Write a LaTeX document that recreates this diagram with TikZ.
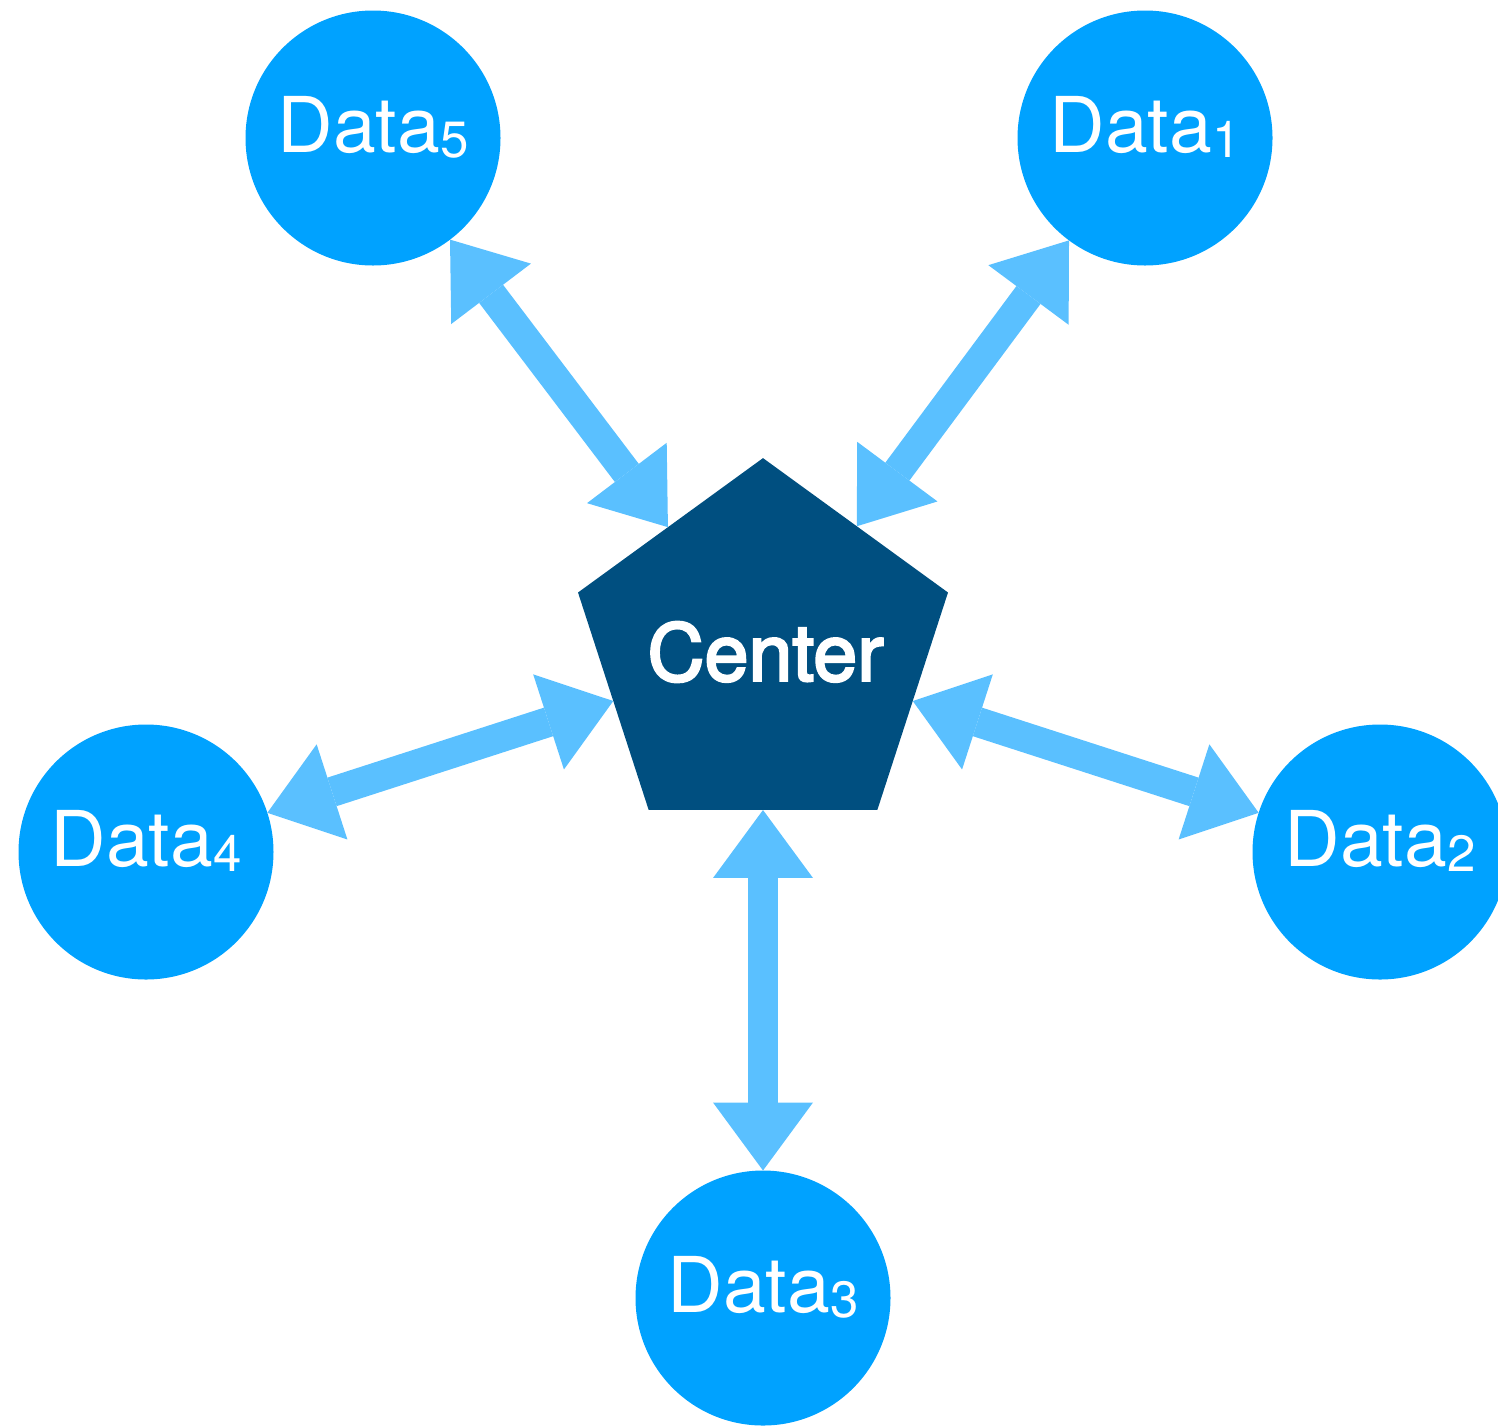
\documentclass[tikz,border=0pt]{standalone}
\usepackage{fontspec}
\setmainfont{TeX Gyre Heros}
\newfontfamily\medfont[FakeBold=3]{TeX Gyre Heros}
\usetikzlibrary{shapes.geometric,arrows.meta}
\definecolor{circc}{RGB}{0,162,255}
\definecolor{pentc}{RGB}{0,79,128}
\definecolor{arrc}{RGB}{90,192,255}
\tikzset{
  datacirc/.style={circle,fill=circc,draw=none,minimum size=255pt,inner sep=0pt,outer sep=0pt},
  pent/.style={regular polygon,regular polygon sides=5,fill=pentc,draw=none,minimum size=389pt,inner sep=0pt,outer sep=0pt},
  ctext/.style={inner sep=0pt,text=white,font=\fontsize{79}{80}\medfont},
  dlabel/.style={anchor=base,inner sep=0pt,text=white,font=\fontsize{77}{80}\selectfont,yshift=-14pt},
  link/.style={draw=arrc,line width=30pt,
    {Triangle[width=100pt,length=68pt,line width=0pt,fill=arrc]}-{Triangle[width=100pt,length=68pt,line width=0pt,fill=arrc]}}
}
\newcommand{\dsub}[1]{\raisebox{-5pt}{\fontsize{51}{54}\selectfont #1}}
\begin{document}
\begin{tikzpicture}[x=1pt,y=-1pt]
\useasboundingbox (0,0) rectangle (1498,1425);
\node[pent] (c) at (763,652.6) {};
\node[ctext] (ct) at (765.5,652) {Center};
\node[datacirc] (d1) at (1145,138) {};
\node[datacirc] (d2) at (1380,852) {};
\node[datacirc] (d3) at (763,1298) {};
\node[datacirc] (d4) at (146,852) {};
\node[datacirc] (d5) at (373,138) {};
\node[dlabel] (t1) at (d1.center) {Data\dsub{1}};
\node[dlabel] (t2) at (d2.center) {Data\dsub{2}};
\node[dlabel] (t3) at (d3.center) {Data\dsub{3}};
\node[dlabel] (t4) at (d4.center) {Data\dsub{4}};
\node[dlabel] (t5) at (d5.center) {Data\dsub{5}};
\draw[link] (c) -- (d1);
\draw[link] (c) -- (d2);
\draw[link] (c) -- (d3);
\draw[link] (c) -- (d4);
\draw[link] (c) -- (d5);
\end{tikzpicture}
\end{document}
